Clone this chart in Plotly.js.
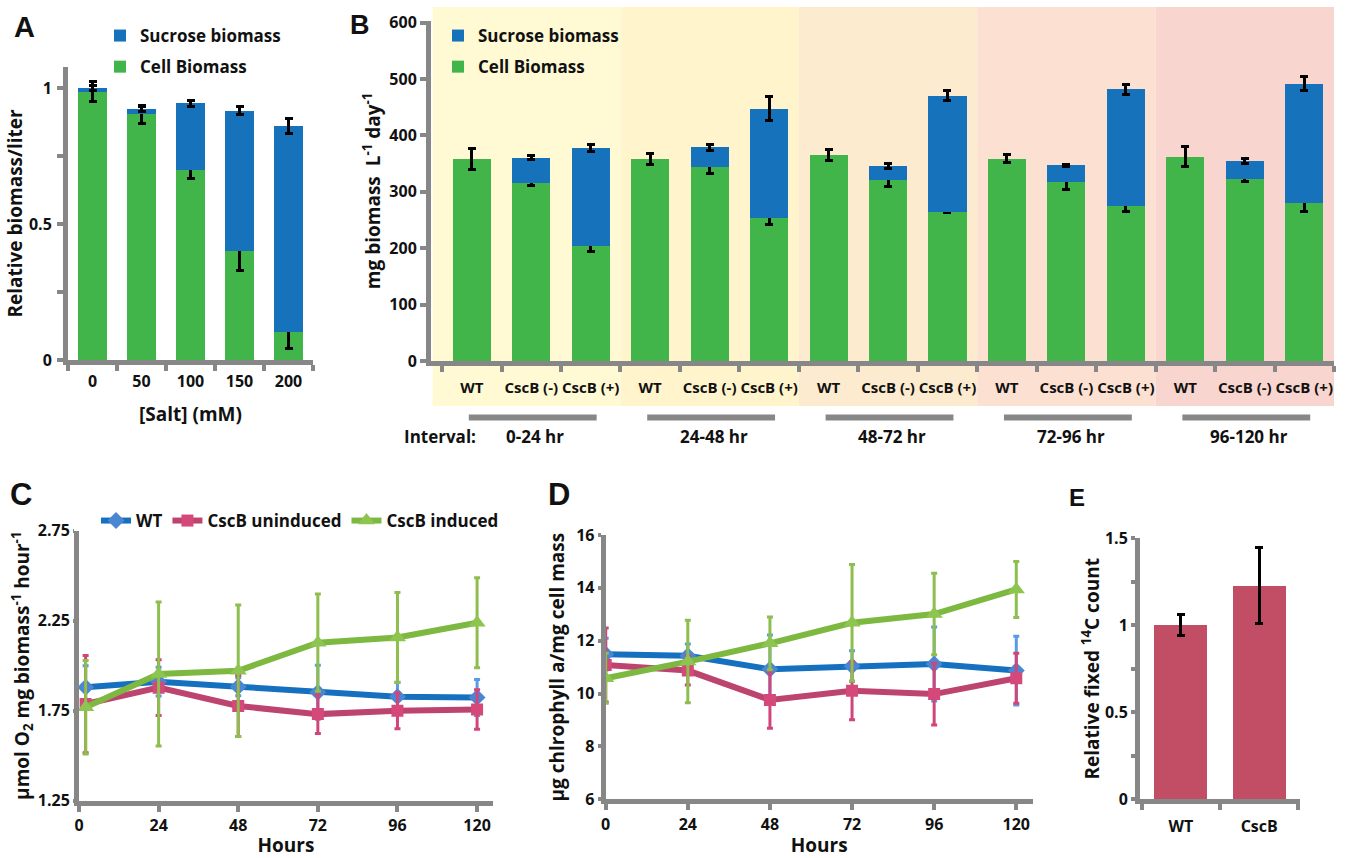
<!DOCTYPE html>
<html><head><meta charset="utf-8">
<script src="https://cdn.plot.ly/plotly-3.0.1.min.js"></script>
<style>html,body{margin:0;padding:0;background:#fff}#chart{width:1346px;height:858px}</style>
</head><body><div id="chart"></div>
<script>
// ---------- Panel A ----------
const saltLevels = ['0', '50', '100', '150', '200'];
const cellA = [0.986, 0.903, 0.697, 0.402, 0.102];
const cellErrA = [0.036, 0.033, 0.031, 0.074, 0.060];
const sucroseA = [0.014, 0.020, 0.246, 0.515, 0.759];
const sucroseErrA = [0.010, 0.010, 0.011, 0.015, 0.028];

// ---------- Panel B ----------
const strainLabelsB = ['WT', 'CscB (-)', 'CscB (+)', 'WT', 'CscB (-)', 'CscB (+)', 'WT', 'CscB (-)', 'CscB (+)',
  'WT', 'CscB (-)', 'CscB (+)', 'WT', 'CscB (-)', 'CscB (+)'];
const intervalsB = ['0-24 hr', '24-48 hr', '48-72 hr', '72-96 hr', '96-120 hr'];
const cellB = [358, 316, 204.5, 359, 343.5, 253, 365, 320.5, 265, 359, 318, 275.5, 362.5, 323, 280];
const cellErrB = [18.6, 5.3, 9.8, 9.8, 11.8, 10.3, 9.5, 11.2, 2, 6.5, 13.6, 10.9, 18.3, 4.7, 14.5];
const sucroseB = [0, 44.6, 173.3, 0, 35.5, 194.5, 0, 25.5, 205.6, 0, 29, 206.5, 0, 31.7, 211.3];
const sucroseErrB = [0, 3, 6.8, 0, 5.6, 20.7, 0, 4.7, 8.6, 0, 2, 8.9, 0, 5, 12.4];
const bandColorsB = ['#FFFAD4', '#FFF4CC', '#FDEBD0', '#FCE1D3', '#F9D5CF'];

// ---------- Panel C ----------
const hoursC = [2, 24, 48, 72, 96, 120];
const wtC = [1.880, 1.911, 1.883, 1.852, 1.828, 1.824];
const wtErrC = [0.12, 0.08, 0.05, 0.15, 0.08, 0.10];
const uninducedC = [1.787, 1.878, 1.776, 1.731, 1.750, 1.757];
const uninducedErrC = [0.27, 0.155, 0.17, 0.107, 0.10, 0.11];
const inducedC = [1.769, 1.954, 1.972, 2.128, 2.157, 2.239];
const inducedErrC = [0.26, 0.40, 0.365, 0.27, 0.25, 0.25];

// ---------- Panel D ----------
const hoursD = [0, 24, 48, 72, 96, 120];
const wtD = [11.49, 11.43, 10.92, 11.04, 11.12, 10.87];
const wtErrD = [0.6, 0.45, 1.3, 0.58, 1.4, 1.3];
const uninducedD = [11.08, 10.87, 9.76, 10.11, 9.98, 10.58];
const uninducedErrD = [1.4, 0.55, 1.07, 1.1, 1.17, 0.95];
const inducedD = [10.58, 11.21, 11.90, 12.68, 13.01, 13.94];
const inducedErrD = [0.95, 1.56, 1.0, 2.2, 1.54, 1.06];

// ---------- Panel E ----------
const strainsE = ['WT', 'CscB'];
const fixedE = [1.0, 1.228];
const fixedErrE = [0.06, 0.22];

// ---------- styling ----------
const W = 1346, H = 858;
const px = v => v / W;
const py = v => 1 - v / H;
const GRAY = '#878787';
const FAM = 'Open Sans, Lato, sans-serif';
const TICKFONT = {family: FAM, size: 16, color: '#111', weight: 700};
const TITLEFONT = {family: FAM, size: 19, color: '#111', weight: 700};
const GREEN = '#42B54A', BLUE = '#1672BA', RED_BAR = '#C24E65';
const C_WT = '#1670C0', C_WT_M = '#4A86D2', C_WT_E = '#5A9BE6';
const C_UN = '#BE4470', C_UN_M = '#D4487A', C_UN_E = '#D0457A';
const C_IN = '#7DB941', C_IN_M = '#8EC450', C_IN_E = '#8DBE4E';

function ax(extra) {
  return Object.assign({
    showline: true, linecolor: GRAY, linewidth: 5, ticks: 'outside', tickcolor: GRAY,
    tickwidth: 4, ticklen: 6, showgrid: false, zeroline: false, tickfont: TICKFONT, fixedrange: true
  }, extra);
}
const blackErr = arr => ({type: 'data', array: arr, color: '#000', thickness: 3, width: 4, visible: true});
const colErr = (arr, c) => ({type: 'data', array: arr, color: c, thickness: 3, width: 3, visible: true});

const idxB = strainLabelsB.map((_, i) => i);
const traces = [
  // A
  {type: 'bar', x: saltLevels, y: cellA, name: 'Cell Biomass', marker: {color: GREEN}, width: 0.61, legendrank: 2,
   error_y: blackErr(cellErrA), xaxis: 'x', yaxis: 'y', legend: 'legend', legendgroup: 'a1'},
  {type: 'bar', x: saltLevels, y: sucroseA, name: 'Sucrose biomass', marker: {color: BLUE}, width: 0.61, legendrank: 1,
   error_y: blackErr(sucroseErrA), xaxis: 'x', yaxis: 'y', legend: 'legend', legendgroup: 'a2'},
  // B
  {type: 'bar', x: idxB, y: cellB, name: 'Cell Biomass', marker: {color: GREEN}, width: 0.64, legendrank: 2,
   error_y: blackErr(cellErrB), xaxis: 'x2', yaxis: 'y2', legend: 'legend2', legendgroup: 'b1'},
  {type: 'bar', x: idxB, y: sucroseB.map(v => v === 0 ? null : v), name: 'Sucrose biomass', marker: {color: BLUE}, width: 0.64, legendrank: 1,
   error_y: blackErr(sucroseErrB), xaxis: 'x2', yaxis: 'y2', legend: 'legend2', legendgroup: 'b2'},
  // C
  {type: 'scatter', mode: 'lines+markers', x: hoursC, y: wtC, name: 'WT', line: {color: C_WT, width: 6},
   marker: {symbol: 'diamond', size: 13, color: C_WT_M}, error_y: colErr(wtErrC, C_WT_E), xaxis: 'x3', yaxis: 'y3', legend: 'legend3'},
  {type: 'scatter', mode: 'lines+markers', x: hoursC, y: uninducedC, name: 'CscB uninduced', line: {color: C_UN, width: 6},
   marker: {symbol: 'square', size: 12, color: C_UN_M}, error_y: colErr(uninducedErrC, C_UN_E), xaxis: 'x3', yaxis: 'y3', legend: 'legend3'},
  {type: 'scatter', mode: 'lines+markers', x: hoursC, y: inducedC, name: 'CscB induced', line: {color: C_IN, width: 6},
   marker: {symbol: 'triangle-up', size: 15, color: C_IN_M}, error_y: colErr(inducedErrC, C_IN_E), xaxis: 'x3', yaxis: 'y3', legend: 'legend3'},
  // D
  {type: 'scatter', mode: 'lines+markers', x: hoursD, y: wtD, name: 'WT', line: {color: C_WT, width: 6}, showlegend: false,
   marker: {symbol: 'diamond', size: 13, color: C_WT_M}, error_y: colErr(wtErrD, C_WT_E), xaxis: 'x4', yaxis: 'y4'},
  {type: 'scatter', mode: 'lines+markers', x: hoursD, y: uninducedD, name: 'CscB uninduced', line: {color: C_UN, width: 6}, showlegend: false,
   marker: {symbol: 'square', size: 12, color: C_UN_M}, error_y: colErr(uninducedErrD, C_UN_E), xaxis: 'x4', yaxis: 'y4'},
  {type: 'scatter', mode: 'lines+markers', x: hoursD, y: inducedD, name: 'CscB induced', line: {color: C_IN, width: 6}, showlegend: false,
   marker: {symbol: 'triangle-up', size: 15, color: C_IN_M}, error_y: colErr(inducedErrD, C_IN_E), xaxis: 'x4', yaxis: 'y4'},
  // E
  {type: 'bar', x: strainsE, y: fixedE, name: 'Relative fixed 14C count', marker: {color: RED_BAR}, width: 0.68, showlegend: false,
   error_y: blackErr(fixedErrE), xaxis: 'x5', yaxis: 'y5'}
];

// B background bands and interval bars
const shapes = [];
intervalsB.forEach((lab, i) => {
  shapes.push({type: 'rect', layer: 'below', xref: 'x2', yref: 'paper',
    x0: i === 0 ? -0.66 : i * 3 - 0.5, x1: i * 3 + 2.5, y0: py(406), y1: py(7),
    fillcolor: bandColorsB[i], line: {width: 0}});
  shapes.push({type: 'rect', xref: 'x2', yref: 'paper', x0: i * 3 - 0.05, x1: i * 3 + 2.1,
    y0: py(420.5), y1: py(414.5), fillcolor: GRAY, line: {width: 0}});
});

const annotations = [];
const letter = (t, x, y, s) => annotations.push({text: t, xref: 'paper', yref: 'paper', x: px(x), y: py(y),
  xanchor: 'center', yanchor: 'middle', showarrow: false, font: {family: 'Liberation Sans, Arial, sans-serif', size: s, color: '#111', weight: 700}});
letter('A', 24, 27, 29);
letter('B', 360, 25, 27);
letter('C', 21, 494, 31);
letter('D', 559, 494, 31);
letter('E', 1077, 497, 24);
annotations.push({text: 'Interval:', xref: 'paper', yref: 'paper', x: px(440), y: py(436), xanchor: 'center', yanchor: 'middle',
  showarrow: false, font: {family: FAM, size: 17, color: '#111', weight: 700}});
intervalsB.forEach((lab, i) => annotations.push({text: lab, xref: 'x2', yref: 'paper', x: i * 3 + 1.07, y: py(436),
  xanchor: 'center', yanchor: 'middle', showarrow: false, font: {family: FAM, size: 17, color: '#111', weight: 700}}));

const legendFont = {family: FAM, size: 17, color: '#111', weight: 700};
const layout = {
  width: W, height: H, margin: {l: 0, r: 0, t: 0, b: 0}, paper_bgcolor: '#fff', plot_bgcolor: 'rgba(0,0,0,0)',
  barmode: 'stack', showlegend: true,
  legend: {x: px(100), y: py(18), xanchor: 'left', yanchor: 'top', bgcolor: 'rgba(0,0,0,0)', font: legendFont,
    traceorder: 'grouped', tracegroupgap: 6},
  legend2: {x: px(438), y: py(18), xanchor: 'left', yanchor: 'top', bgcolor: 'rgba(0,0,0,0)', font: legendFont,
    traceorder: 'grouped', tracegroupgap: 6},
  legend3: {x: px(96), y: py(521), xanchor: 'left', yanchor: 'middle', orientation: 'h', bgcolor: 'rgba(0,0,0,0)', font: legendFont},
  // A
  xaxis: ax({domain: [px(68), px(313)], type: 'category', tickson: 'boundaries', anchor: 'y', range: [-0.5, 4.5],
    ticklabelstandoff: 3, title: {text: '[Salt] (mM)', font: TITLEFONT, standoff: 18}}),
  yaxis: ax({domain: [py(360), py(67)], anchor: 'x', range: [0, 1.077], tickmode: 'array', tickvals: [0, 0.5, 1], ticktext: ['0', '0.5', '1'],
    ticklabelstandoff: 2, minor: {tickmode: 'array', tickvals: [0.25, 0.75], ticks: 'outside', ticklen: 6, tickwidth: 4, tickcolor: GRAY},
    title: {text: 'Relative biomass/liter', font: TITLEFONT, standoff: 3}}),
  // B
  xaxis2: ax({domain: [px(431), px(1334)], type: 'linear', anchor: 'y2', range: [-0.686, 14.5], tickmode: 'array',
    tickvals: idxB, ticktext: strainLabelsB, ticks: '', tickangle: 0, ticklabelstandoff: 9,
    tickfont: {family: FAM, size: 15, color: '#111', weight: 700},
    minor: {tickmode: 'array', tickvals: idxB.map(i => i + 0.5).concat([-0.5]), ticks: 'outside', ticklen: 6, tickwidth: 4, tickcolor: GRAY}}),
  yaxis2: ax({domain: [py(361), py(20.7)], anchor: 'x2', range: [0, 603.5], tickmode: 'array', tickvals: [0, 100, 200, 300, 400, 500, 600],
    title: {text: 'mg biomass  L<sup>-1</sup> day<sup>-1</sup>', font: TITLEFONT, standoff: 5}}),
  // C
  xaxis3: ax({domain: [px(79), px(493)], anchor: 'y3', range: [0, 124.8], tickmode: 'array', tickvals: [0, 24, 48, 72, 96, 120],
    title: {text: 'Hours', font: TITLEFONT, standoff: 6}}),
  yaxis3: ax({domain: [py(800.7), py(530.7)], anchor: 'x3', range: [1.25, 2.75], tickmode: 'array', tickvals: [1.25, 1.75, 2.25, 2.75],
    ticktext: ['1.25', '1.75', '2.25', '2.75'], ticklen: 1,
    title: {text: 'μmol O<sub>2</sub> mg biomass<sup>-1</sup> hour<sup>-1</sup>', font: TITLEFONT, standoff: 5}}),
  // D
  xaxis4: ax({domain: [px(605.7), px(1032.7)], anchor: 'y4', range: [0, 124.8], tickmode: 'array', tickvals: [0, 24, 48, 72, 96, 120],
    title: {text: 'Hours', font: TITLEFONT, standoff: 6}}),
  yaxis4: ax({domain: [py(799.3), py(535)], anchor: 'x4', range: [6, 16], tickmode: 'array', tickvals: [6, 8, 10, 12, 14, 16], ticklen: 3,
    title: {text: 'µg chlrophyll a/mg cell mass', font: TITLEFONT, standoff: 8}}),
  // E
  xaxis5: ax({domain: [px(1140), px(1300)], type: 'category', tickson: 'boundaries', anchor: 'y5', range: [-0.52, 1.52], ticklabelstandoff: 8}),
  yaxis5: ax({domain: [py(799.3), py(538.3)], anchor: 'x5', range: [0, 1.5], tickmode: 'array', tickvals: [0, 0.5, 1, 1.5], ticktext: ['0', '0.5', '1', '1.5'],
    ticklen: 4, minor: {tickmode: 'array', tickvals: [0.25, 0.75, 1.25], ticks: 'outside', ticklen: 4, tickwidth: 4, tickcolor: GRAY},
    title: {text: 'Relative fixed <sup>14</sup>C count', font: TITLEFONT, standoff: 2}}),
  shapes: shapes,
  annotations: annotations
};

Plotly.newPlot('chart', traces, layout, {displayModeBar: false, staticPlot: true});
</script>
</body></html>
